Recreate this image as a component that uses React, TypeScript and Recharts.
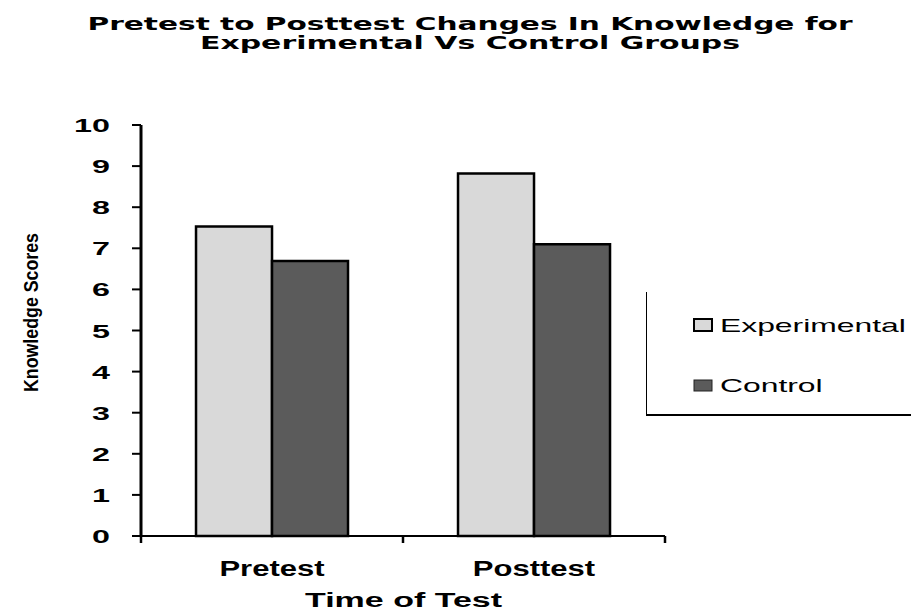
import React from 'react';
import { BarChart, Bar, XAxis, YAxis, Legend } from 'recharts';

const categories = ['Pretest', 'Posttest'];
const experimentalScores = [7.53, 8.82];
const controlScores = [6.69, 7.1];
const yTicks = [0, 1, 2, 3, 4, 5, 6, 7, 8, 9, 10];
const seriesNames = ['Experimental', 'Control'];
const titleLines = ['Pretest to Posttest Changes In Knowledge for', 'Experimental Vs Control Groups'];
const yAxisTitle = 'Knowledge Scores';
const xAxisTitle = 'Time of Test';

const data = categories.map((c, i) => ({
  name: c,
  experimental: experimentalScores[i],
  control: controlScores[i],
}));

const W = 911;
const H = 612;
const MARGIN = { top: 125, right: 246, bottom: 16, left: 41 };
const Y_AXIS_W = 100;
const PLOT_W = W - MARGIN.left - MARGIN.right - Y_AXIS_W;
const FONT = '"Liberation Sans", Arial, sans-serif';
const HEAVY = '"DejaVu Sans", "Liberation Sans", sans-serif';

const YTick = (props: any) => {
  const { x, y, payload } = props;
  return (
    <g transform={`translate(${x},${y})`}>
      <text
        x={0}
        y={0}
        dy={7}
        textAnchor="end"
        transform="scale(1.7,1)"
        fontFamily={FONT}
        fontWeight="bold"
        fontSize={19}
        fill="#000"
      >
        {payload.value}
      </text>
    </g>
  );
};

const XTick = (props: any) => {
  const { x, y, payload, index, visibleTicksCount } = props;
  const half = payload && payload.offset ? payload.offset : PLOT_W / categories.length / 2;
  return (
    <g>
      <line x1={x - half} y1={y - 7} x2={x - half} y2={y} stroke="#000" strokeWidth={2.5} />
      {index === visibleTicksCount - 1 && (
        <line x1={x + half} y1={y - 7} x2={x + half} y2={y} stroke="#000" strokeWidth={2.5} />
      )}
      <g transform={`translate(${x},${y + 33})`}>
        <text
          x={0}
          y={0}
          textAnchor="middle"
          transform="scale(1.41,1)"
          fontFamily={FONT}
          fontWeight="bold"
          fontSize={22}
          fill="#000"
        >
          {payload.value}
        </text>
      </g>
    </g>
  );
};

const renderLegend = (props: any) => {
  const payload = [...(props.payload || [])].sort(
    (a: any, b: any) => seriesNames.indexOf(a.value) - seriesNames.indexOf(b.value)
  );
  return (
    <svg width={265} height={125} style={{ display: 'block', overflow: 'visible' }}>
      <line x1={0.5} y1={0} x2={0.5} y2={123} stroke="#000" strokeWidth={1} />
      <line x1={0} y1={123} x2={265} y2={123} stroke="#000" strokeWidth={2} />
      {payload.map((p: any, i: number) => (
        <g key={i}>
          <rect
            x={48}
            y={i === 0 ? 27 : 88}
            width={18}
            height={i === 0 ? 12 : 11}
            fill={p.color}
            stroke={i === 0 ? '#000' : '#222'}
            strokeWidth={i === 0 ? 2 : 1}
          />
          <g transform={`translate(74,${40 + i * 60})`}>
            <text
              x={0}
              y={0}
              transform="scale(1.77,1)"
              fontFamily={FONT}
              fontSize={18}
              fill="#000"
            >
              {p.value}
            </text>
          </g>
        </g>
      ))}
    </svg>
  );
};

export default function App() {
  return (
    <div style={{ position: 'absolute', left: 0, top: 0, width: W, height: H, background: '#fff' }}>
      <BarChart
        width={W}
        height={H}
        data={data}
        margin={MARGIN}
        barGap={0}
        barCategoryGap="21%"
      >
        <XAxis
          dataKey="name"
          type="category"
          height={60}
          axisLine={{ stroke: '#000', strokeWidth: 2 }}
          tickLine={false}
          tickSize={7}
          tickMargin={0}
          tick={<XTick />}
          interval={0}
        />
        <YAxis
          width={Y_AXIS_W}
          domain={[0, 10]}
          ticks={yTicks}
          interval={0}
          axisLine={{ stroke: '#000', strokeWidth: 3 }}
          tickLine={{ stroke: '#000', strokeWidth: 2 }}
          tickSize={9}
          tickMargin={22}
          tick={<YTick />}
        />
        <Legend
          layout="vertical"
          align="center"
          verticalAlign="middle"
          content={renderLegend}
          wrapperStyle={{ left: 646, top: 292, width: 265, height: 125 }}
        />
        <Bar
          dataKey="experimental"
          name={seriesNames[0]}
          fill="#d9d9d9"
          stroke="#000"
          strokeWidth={2.5}
          isAnimationActive={false}
        />
        <Bar
          dataKey="control"
          name={seriesNames[1]}
          fill="#5b5b5b"
          stroke="#000"
          strokeWidth={2.5}
          isAnimationActive={false}
        />
      </BarChart>
      <svg
        width={W}
        height={H}
        style={{ position: 'absolute', left: 0, top: 0, pointerEvents: 'none' }}
      >
        <text
          x={470}
          y={30}
          textAnchor="middle"
          textLength={765}
          lengthAdjust="spacingAndGlyphs"
          fontFamily={HEAVY}
          fontWeight="bold"
          fontSize={18}
          fill="#000"
        >
          {titleLines[0]}
        </text>
        <text
          x={470}
          y={49}
          textAnchor="middle"
          textLength={540}
          lengthAdjust="spacingAndGlyphs"
          fontFamily={HEAVY}
          fontWeight="bold"
          fontSize={18}
          fill="#000"
        >
          {titleLines[1]}
        </text>
        <text
          transform="translate(38,312.5) rotate(-90)"
          x={0}
          y={0}
          textAnchor="middle"
          textLength={159}
          lengthAdjust="spacingAndGlyphs"
          fontFamily={FONT}
          fontWeight="bold"
          fontSize={20}
          fill="#000"
        >
          {yAxisTitle}
        </text>
        <text
          x={403.5}
          y={607}
          textAnchor="middle"
          textLength={197}
          lengthAdjust="spacingAndGlyphs"
          fontFamily={FONT}
          fontWeight="bold"
          fontSize={20}
          fill="#000"
        >
          {xAxisTitle}
        </text>
      </svg>
    </div>
  );
}
